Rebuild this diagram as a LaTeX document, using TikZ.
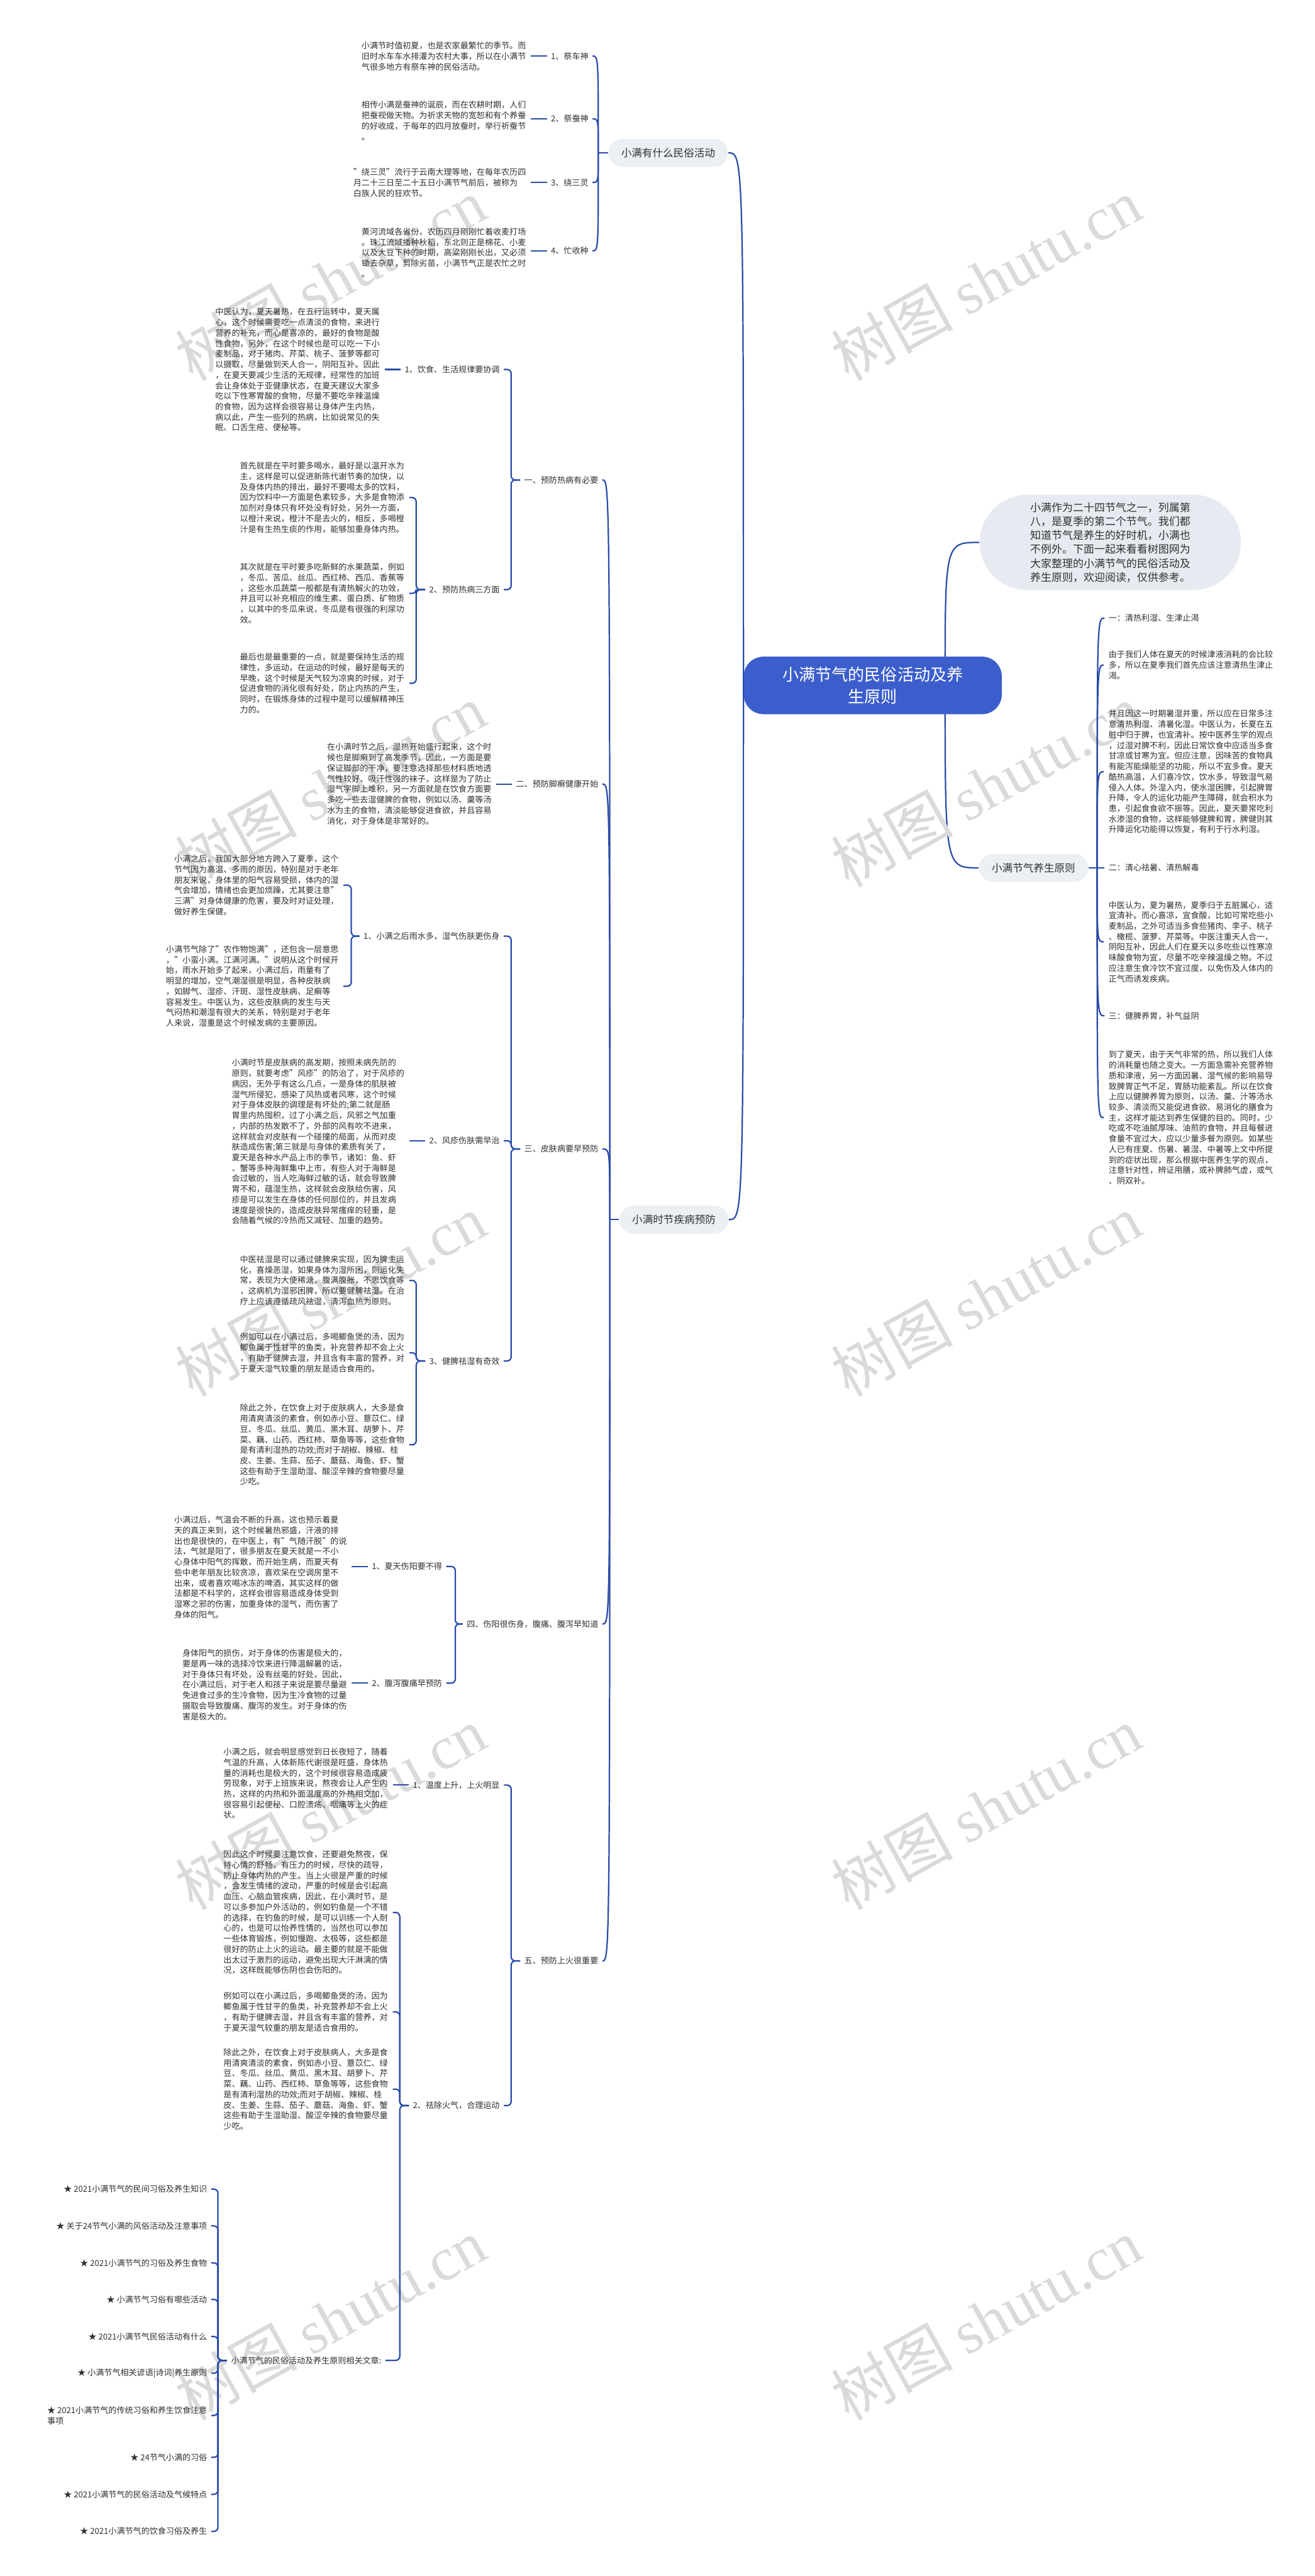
\documentclass[tikz,border=0pt]{standalone}
\usepackage{fontspec}
\setmainfont{Noto Sans CJK SC}
\newfontfamily\latinserif{Liberation Serif}
\usetikzlibrary{positioning, calc, backgrounds}
\definecolor{linkblue}{RGB}{42, 76, 168}
\definecolor{rootblue}{RGB}{60, 94, 205}
\definecolor{topicgray}{RGB}{236, 240, 245}
\definecolor{introgray}{RGB}{231, 235, 241}
\definecolor{inkgray}{RGB}{48, 48, 48}
\definecolor{markgray}{RGB}{218, 218, 218}
\tikzset{
  link/.style={draw=linkblue, line width=0.85pt},
  bracket/.style={link, rounded corners=2.5pt},
  body/.style={font=\fontsize{5}{6.4}\selectfont, text=inkgray, align=left, inner sep=0pt, outer xsep=3pt},
  leaf/.style={font=\fontsize{5}{6.4}\selectfont, text=inkgray, align=left, inner sep=0pt, outer xsep=2.5pt},
  topic/.style={fill=topicgray, rounded corners=8.5pt, minimum height=17pt, inner xsep=7.8pt, inner ysep=0pt, font=\fontsize{6.35}{7}\selectfont, text=inkgray},
  root/.style={fill=rootblue, text=white, rounded corners=12pt, minimum width=157pt, minimum height=35pt, align=center, font=\fontsize{10}{13.5}\selectfont},
  intro/.style={fill=introgray, rounded corners=29pt, minimum width=159pt, minimum height=58pt, inner xsep=29pt, align=left, font=\fontsize{6.5}{8.5}\selectfont, text=inkgray},
  wmark/.style={text=markgray, rotate=29, font=\fontsize{37}{37}\selectfont, inner sep=0pt}
}

\begin{document}
\begin{tikzpicture}[x=1pt, y=-1pt]
    \begin{scope}[on background layer]
      \fill[white] (0,0) rectangle (800,1567.2);
    \end{scope}
    \useasboundingbox (0,0) rectangle (800,1567.2);

    % watermarks
    \foreach \wy in {170,478,788,1100,1411}{
      \node[wmark] (wl\wy) at (201,\wy) {树图 {\latinserif shutu.cn}};
      \node[wmark] (wr\wy) at (600,\wy) {树图 {\latinserif shutu.cn}};
    }

    % root and main topics
    \node[root] (root) at (531,417) {小满节气的民俗活动及养\\生原则};
    \node[intro] (intro) at (675.5,330) {小满作为二十四节气之一，列属第\\八，是夏季的第二个节气。我们都\\知道节气是养生的好时机，小满也\\不例外。下面一起来看看树图网为\\大家整理的小满节气的民俗活动及\\养生原则，欢迎阅读，仅供参考。};
    \node[topic] (yangsheng) at (628.8,528) {小满节气养生原则};
    \node[topic] (minsu) at (406.5,93) {小满有什么民俗活动};
    \node[topic] (jibing) at (410,742) {小满时节疾病预防};

    \begin{scope}[on background layer]
      \draw[link] (575,417) .. controls (575,330) .. (intro.west);
      \draw[link] (575,417) .. controls (575,528) .. (yangsheng.west);
    \end{scope}
    \draw[link] (root.west) .. controls (root.west |- minsu.east) .. (minsu.east);
    \draw[link] (root.west) .. controls (root.west |- jibing.east) .. (jibing.east);

    % customs
    \node[leaf, anchor=east] (m1) at (360.5,34.1) {1、祭车神};
    \node[leaf, anchor=east] (m2) at (360.5,72.3) {2、祭蚕神};
    \node[leaf, anchor=east] (m3) at (360.5,111) {3、绕三灵};
    \node[leaf, anchor=east] (m4) at (360.5,152.6) {4、忙收种};
    \node[body, anchor=east] (mt1) at (323,34.3) {小满节时值初夏，也是农家最繁忙的季节。而\\旧时水车车水排灌为农村大事，所以在小满节\\气很多地方有祭车神的民俗活动。};
    \node[body, anchor=east] (mt2) at (323,73.4) {相传小满是蚕神的诞辰，而在农耕时期，人们\\把蚕视做天物。为祈求天物的宽恕和有个养蚕\\的好收成，于每年的四月放蚕时，举行祈蚕节\\。};
    \node[body, anchor=east] (mt3) at (323,111.2) {"绕三灵"流行于云南大理等地，在每年农历四\\月二十三日至二十五日小满节气前后，被称为\\白族人民的狂欢节。};
    \node[body, anchor=east] (mt4) at (323,153.7) {黄河流域各省份，农历四月刚刚忙着收麦打场\\。珠江流域播种秋稻，东北则正是棉花、小麦\\以及大豆下种的时期，高粱刚刚长出，又必须\\锄去杂草，剪除劣苗，小满节气正是农忙之时\\。};
    \coordinate (mo) at (364,93);
    \draw[link] (minsu.west) -- (mo);
    \foreach \c in {m1,m2,m3,m4}
      \draw[link] (mo) .. controls (mo |- \c.east) .. (\c.east);
    \foreach \i in {1,2,3,4}
      \draw[link] (mt\i.east |- m\i.west) -- (m\i.west);

    % disease prevention: sections
    \node[leaf, anchor=east] (s1) at (366.5,292) {一、预防热病有必要};
    \node[leaf, anchor=east] (s2) at (366.5,477) {二、预防脚癣健康开始};
    \node[leaf, anchor=east] (s3) at (366.5,699) {三、皮肤病要早预防};
    \node[leaf, anchor=east] (s4) at (366.5,988) {四、伤阳很伤身，腹痛、腹泻早知道};
    \node[leaf, anchor=east] (s5) at (366.5,1193) {五、预防上火很重要};
    \coordinate (jo) at (371,742);
    \draw[link] (jibing.west) -- (jo);
    \foreach \c in {s1,s2,s3,s4,s5}
      \draw[link] (jo) .. controls (jo |- \c.east) .. (\c.east);

    % section one
    \node[leaf, anchor=east] (s1a) at (306.5,224.8) {1、饮食、生活规律要协调};
    \node[leaf, anchor=east] (s1b) at (306.5,358.7) {2、预防热病三方面};
    \foreach \c in {s1a,s1b}
      \draw[bracket] (s1.west) -- ++(-5.5,0) |- (\c.east);
    \node[body, anchor=east] (t1a) at (234,225) {中医认为，夏天暑热，在五行运转中，夏天属\\心，这个时候需要吃一点清淡的食物，来进行\\营养的补充，而心是喜凉的，最好的食物是酸\\性食物，另外，在这个时候也是可以吃一下小\\麦制品，对于猪肉、芹菜、桃子、菠萝等都可\\以摄取，尽量做到天人合一，阴阳互补。因此\\，在夏天要减少生活的无规律，经常性的加班\\会让身体处于亚健康状态，在夏天建议大家多\\吃以下性寒胃酸的食物，尽量不要吃辛辣温燥\\的食物，因为这样会很容易让身体产生内热，\\病以此，产生一些列的热病，比如说常见的失\\眠、口舌生疮、便秘等。};
    \draw[link] (t1a.east |- s1a.west) -- (s1a.west);
    \node[body, anchor=east] (t1b1) at (249,302.7) {首先就是在平时要多喝水，最好是以温开水为\\主，这样是可以促进新陈代谢节奏的加快，以\\及身体内热的排出，最好不要喝太多的饮料，\\因为饮料中一方面是色素较多，大多是食物添\\加剂对身体只有坏处没有好处，另外一方面，\\以橙汁来说，橙汁不是去火的，相反，多喝橙\\汁是有生热生痰的作用，能够加重身体内热。};
    \node[body, anchor=east] (t1b2) at (249,361) {其次就是在平时要多吃新鲜的水果蔬菜，例如\\，冬瓜、苦瓜、丝瓜、西红柿、西瓜、香蕉等\\，这些水瓜蔬菜一般都是有清热解火的功效，\\并且可以补充相应的维生素、蛋白质、矿物质\\，以其中的冬瓜来说，冬瓜是有很强的利尿功\\效。};
    \node[body, anchor=east] (t1b3) at (249,415.7) {最后也是最重要的一点，就是要保持生活的规\\律性，多运动，在运动的时候，最好是每天的\\早晚，这个时候是天气较为凉爽的时候，对于\\促进食物的消化很有好处，防止内热的产生，\\同时，在锻炼身体的过程中是可以缓解精神压\\力的。};
    \foreach \c in {t1b1,t1b2,t1b3}
      \draw[bracket] (s1b.west) -- ++(-5.5,0) |- (\c.east);

    % section two
    \node[body, anchor=east] (t2) at (302,477) {在小满时节之后，湿热开始盛行起来，这个时\\候也是脚癣到了高发季节，因此，一方面是要\\保证脚部的干净，要注意选择那些材料质地透\\气性较好、吸汗性强的袜子，这样是为了防止\\湿气字脚上堆积，另一方面就是在饮食方面要\\多吃一些去湿健脾的食物，例如以汤、羹等汤\\水为主的食物，清淡能够促进食欲，并且容易\\消化，对于身体是非常好的。};
    \draw[link] (t2.east |- s2.west) -- (s2.west);

    % section three
    \node[leaf, anchor=east] (s3a) at (306.5,569.5) {1、小满之后雨水多，湿气伤肤更伤身};
    \node[leaf, anchor=east] (s3b) at (306.5,694) {2、风疹伤肤需早治};
    \node[leaf, anchor=east] (s3c) at (306.5,828) {3、健脾祛湿有奇效};
    \foreach \c in {s3a,s3b,s3c}
      \draw[bracket] (s3.west) -- ++(-5.5,0) |- (\c.east);
    \node[body, anchor=east] (t3a1) at (209,538.5) {小满之后，我国大部分地方跨入了夏季，这个\\节气因为高温、多雨的原因，特别是对于老年\\朋友来说，身体里的阳气容易受损，体内的湿\\气会增加，情绪也会更加烦躁，尤其要注意"\\三满"对身体健康的危害，要及时对证处理，\\做好养生保健。};
    \node[body, anchor=east] (t3a2) at (209,600) {小满节气除了"农作物饱满"，还包含一层意思\\，"小蛮小满。江满河满。"说明从这个时候开\\始，雨水开始多了起来，小满过后，雨量有了\\明显的增加，空气潮湿很是明显，各种皮肤病\\，如脚气、湿疹、汗斑、湿性皮肤病、足癣等\\容易发生。中医认为，这些皮肤病的发生与天\\气闷热和潮湿有很大的关系，特别是对于老年\\人来说，湿重是这个时候发病的主要原因。};
    \foreach \c in {t3a1,t3a2}
      \draw[bracket] (s3a.west) -- ++(-5,0) |- (\c.east);
    \node[body, anchor=east] (t3b) at (249,694.6) {小满时节是皮肤病的高发期，按照未病先防的\\原则，就要考虑"风疹"的防治了，对于风疹的\\病因，无外乎有这么几点，一是身体的肌肤被\\湿气所侵犯，感染了风热或者风寒，这个时候\\对于身体皮肤的调理是有坏处的;第二就是肠\\胃里内热囤积，过了小满之后，风邪之气加重\\，内部的热发散不了，外部的风有吹不进来，\\这样就会对皮肤有一个碰撞的局面，从而对皮\\肤造成伤害;第三就是与身体的素质有关了，\\夏天是各种水产品上市的季节，诸如：鱼、虾\\、蟹等多种海鲜集中上市，有些人对于海鲜是\\会过敏的，当人吃海鲜过敏的话，就会导致脾\\胃不和，蕴湿生热，这样就会皮肤给伤害，风\\疹是可以发生在身体的任何部位的，并且发病\\速度是很快的，造成皮肤异常瘙痒的轻重，是\\会随着气候的冷热而又减轻、加重的趋势。};
    \draw[link] (t3b.east |- s3b.west) -- (s3b.west);
    \node[body, anchor=east] (t3c1) at (249,779) {中医祛湿是可以通过健脾来实现，因为脾主运\\化，喜燥恶湿，如果身体为湿所困，则运化失\\常，表现为大便稀溏，腹满腹胀，不思饮食等\\，这病机为湿邪困脾，所以要健脾祛湿。在治\\疗上应该遵循疏风祛湿，清泻血热为原则。};
    \node[body, anchor=east] (t3c2) at (249,823) {例如可以在小满过后，多喝鲫鱼煲的汤，因为\\鲫鱼属于性甘平的鱼类，补充营养却不会上火\\，有助于健脾去湿，并且含有丰富的营养，对\\于夏天湿气较重的朋友是适合食用的。};
    \node[body, anchor=east] (t3c3) at (249,879) {除此之外，在饮食上对于皮肤病人，大多是食\\用清爽清淡的素食，例如赤小豆、薏苡仁、绿\\豆、冬瓜、丝瓜、黄瓜、黑木耳、胡萝卜、芹\\菜、藕、山药、西红柿、草鱼等等，这些食物\\是有清利湿热的功效;而对于胡椒、辣椒、桂\\皮、生姜、生蒜、茄子、蘑菇、海鱼、虾、蟹\\这些有助于生湿助湿、酸涩辛辣的食物要尽量\\少吃。};
    \foreach \c in {t3c1,t3c2,t3c3}
      \draw[bracket] (s3c.west) -- ++(-5.5,0) |- (\c.east);

    % section four
    \node[leaf, anchor=east] (s4a) at (271.5,953) {1、夏天伤阳要不得};
    \node[leaf, anchor=east] (s4b) at (271.5,1024) {2、腹泻腹痛早预防};
    \foreach \c in {s4a,s4b}
      \draw[bracket] (s4.west) -- ++(-4.5,0) |- (\c.east);
    \node[body, anchor=east] (t4a) at (214,953.5) {小满过后，气温会不断的升高，这也预示着夏\\天的真正来到，这个时候暑热邪盛，汗液的排\\出也是很快的，在中医上，有"气随汗脱"的说\\法，气就是阳了，很多朋友在夏天就是一不小\\心身体中阳气的挥散，而开始生病，而夏天有\\些中老年朋友比较贪凉，喜欢呆在空调房里不\\出来，或者喜欢喝冰冻的啤酒，其实这样的做\\法都是不科学的，这样会很容易造成身体受到\\湿寒之邪的伤害，加重身体的湿气，而伤害了\\身体的阳气。};
    \node[body, anchor=east] (t4b) at (214,1025) {身体阳气的损伤，对于身体的伤害是极大的，\\要是再一味的选择冷饮来进行降温解暑的话，\\对于身体只有坏处，没有丝毫的好处，因此，\\在小满过后，对于老人和孩子来说是要尽量避\\免进食过多的生冷食物，因为生冷食物的过量\\摄取会导致腹痛、腹泻的发生。对于身体的伤\\害是极大的。};
    \draw[link] (t4a.east |- s4a.west) -- (s4a.west);
    \draw[link] (t4b.east |- s4b.west) -- (s4b.west);

    % section five
    \node[leaf, anchor=east] (s5a) at (306.5,1086) {1、温度上升，上火明显};
    \node[leaf, anchor=east] (s5b) at (306.5,1281) {2、祛除火气，合理运动};
    \foreach \c in {s5a,s5b}
      \draw[bracket] (s5.west) -- ++(-5.5,0) |- (\c.east);
    \node[body, anchor=east] (t5a) at (239,1085) {小满之后，就会明显感觉到日长夜短了，随着\\气温的升高，人体新陈代谢很是旺盛，身体热\\量的消耗也是极大的，这个时候很容易造成疲\\劳现象，对于上班族来说，熬夜会让人产生内\\热，这样的内热和外面温度高的外热相交加，\\很容易引起便秘、口腔溃疡、咽痛等上火的症\\状。};
    \draw[link] (t5a.east |- s5a.west) -- (s5a.west);
    \node[body, anchor=east] (t5b1) at (239,1163.5) {因此这个时候要注意饮食，还要避免熬夜，保\\持心情的舒畅，有压力的时候，尽快的疏导，\\防止身体内热的产生。当上火很是严重的时候\\，会发生情绪的波动，严重的时候是会引起高\\血压、心脑血管疾病，因此，在小满时节，是\\可以多参加户外活动的，例如钓鱼是一个不错\\的选择，在钓鱼的时候，是可以训练一个人耐\\心的，也是可以怡养性情的，当然也可以参加\\一些体育锻炼，例如慢跑、太极等，这些都是\\很好的防止上火的运动。最主要的就是不能做\\出太过于激烈的运动，避免出现大汗淋漓的情\\况，这样既能够伤阴也会伤阳的。};
    \node[body, anchor=east] (t5b2) at (239,1224) {例如可以在小满过后，多喝鲫鱼煲的汤，因为\\鲫鱼属于性甘平的鱼类，补充营养却不会上火\\，有助于健脾去湿，并且含有丰富的营养，对\\于夏天湿气较重的朋友是适合食用的。};
    \node[body, anchor=east] (t5b3) at (239,1271) {除此之外，在饮食上对于皮肤病人，大多是食\\用清爽清淡的素食，例如赤小豆、薏苡仁、绿\\豆、冬瓜、丝瓜、黄瓜、黑木耳、胡萝卜、芹\\菜、藕、山药、西红柿、草鱼等等，这些食物\\是有清利湿热的功效;而对于胡椒、辣椒、桂\\皮、生姜、生蒜、茄子、蘑菇、海鱼、虾、蟹\\这些有助于生湿助湿、酸涩辛辣的食物要尽量\\少吃。};
    \node[leaf, anchor=east] (rel) at (234.5,1436) {小满节气的民俗活动及养生原则相关文章:};
    \foreach \c in {t5b1,t5b2,t5b3,rel}
      \draw[bracket] (s5b.west) -- ++(-5.5,0) |- (\c.east);

    % related articles
    \node[leaf, anchor=east] (r1) at (128.5,1331.8) {★ 2021小满节气的民间习俗及养生知识};
    \node[leaf, anchor=east] (r2) at (128.5,1354.2) {★ 关于24节气小满的风俗活动及注意事项};
    \node[leaf, anchor=east] (r3) at (128.5,1376.7) {★ 2021小满节气的习俗及养生食物};
    \node[leaf, anchor=east] (r4) at (128.5,1398.9) {★ 小满节气习俗有哪些活动};
    \node[leaf, anchor=east] (r5) at (128.5,1421.5) {★ 2021小满节气民俗活动有什么};
    \node[leaf, anchor=east] (r6) at (128.5,1443.8) {★ 小满节气相关谚语|诗词|养生原则};
    \node[leaf, anchor=east] (r7) at (128.5,1469.5) {★ 2021小满节气的传统习俗和养生饮食注意\\事项};
    \node[leaf, anchor=east] (r8) at (128.5,1495) {★ 24节气小满的习俗};
    \node[leaf, anchor=east] (r9) at (128.5,1517.5) {★ 2021小满节气的民俗活动及气候特点};
    \node[leaf, anchor=east] (r10) at (128.5,1540) {★ 2021小满节气的饮食习俗及养生};
    \foreach \c in {r1,r2,r3,r4,r5,r6,r7,r8,r9,r10}
      \draw[bracket] (rel.west) -- ++(-5.5,0) |- (\c.east);

    % health principles
    \node[leaf, anchor=west] (y1) at (672,376) {一：清热利湿、生津止渴};
    \node[body, anchor=west] (yt1) at (671.5,404.6) {由于我们人体在夏天的时候津液消耗的会比较\\多，所以在夏季我们首先应该注意清热生津止\\渴。};
    \node[body, anchor=west] (yt2) at (671.5,469.5) {并且因这一时期暑湿并重，所以应在日常多注\\意清热利湿、清暑化湿。中医认为，长夏在五\\脏中归于脾，也宜清补。按中医养生学的观点\\，过湿对脾不利，因此日常饮食中应适当多食\\甘凉或甘寒为宜。但应注意，因味苦的食物具\\有能泻能燥能坚的功能，所以不宜多食。夏天\\酷热高温，人们喜冷饮，饮水多，导致湿气易\\侵入人体。外湿入内，使水湿困脾，引起脾胃\\升降，令人的运化功能产生障碍，就会积水为\\患，引起食食欲不振等。因此，夏天要常吃利\\水渗湿的食物，这样能够健脾和胃，脾健则其\\升降运化功能得以恢复，有利于行水利湿。};
    \node[leaf, anchor=west] (y2) at (672,528) {二：清心祛暑、清热解毒};
    \node[body, anchor=west] (yt3) at (671.5,573) {中医认为，夏为暑热，夏季归于五脏属心，适\\宜清补。而心喜凉，宜食酸，比如可常吃些小\\麦制品，之外可适当多食些猪肉、李子、桃子\\、橄榄、菠萝、芹菜等。中医注重天人合一，\\阴阳互补，因此人们在夏天以多吃些以性寒凉\\味酸食物为宜，尽量不吃辛辣温燥之物。不过\\应注意生食冷饮不宜过度，以免伤及人体内的\\正气而诱发疾病。};
    \node[leaf, anchor=west] (y3) at (672,618) {三：健脾养胃，补气益阴};
    \node[body, anchor=west] (yt4) at (671.5,680) {到了夏天，由于天气非常的热，所以我们人体\\的消耗量也随之变大。一方面急需补充营养物\\质和津液，另一方面因暑、湿气候的影响易导\\致脾胃正气不足，胃肠功能紊乱。所以在饮食\\上应以健脾养胃为原则，以汤、羹、汁等汤水\\较多、清淡而又能促进食欲、易消化的膳食为\\主，这样才能达到养生保健的目的。同时，少\\吃或不吃油腻厚味、油煎的食物，并且每餐进\\食量不宜过大，应以少量多餐为原则。如某些\\人已有疰夏、伤暑、暑湿、中暑等上文中所提\\到的症状出现，那么根据中医养生学的观点，\\注意针对性，辨证用膳，或补脾肺气虚，或气\\、阴双补。};
    \coordinate (yo) at (667.5,528);
    \draw[link] (yangsheng.east) -- (yo);
    \foreach \c in {y1,yt1,yt2,y2,yt3,y3,yt4}
      \draw[link] (yo) .. controls (yo |- \c.west) .. (\c.west);
\end{tikzpicture}
\end{document}
